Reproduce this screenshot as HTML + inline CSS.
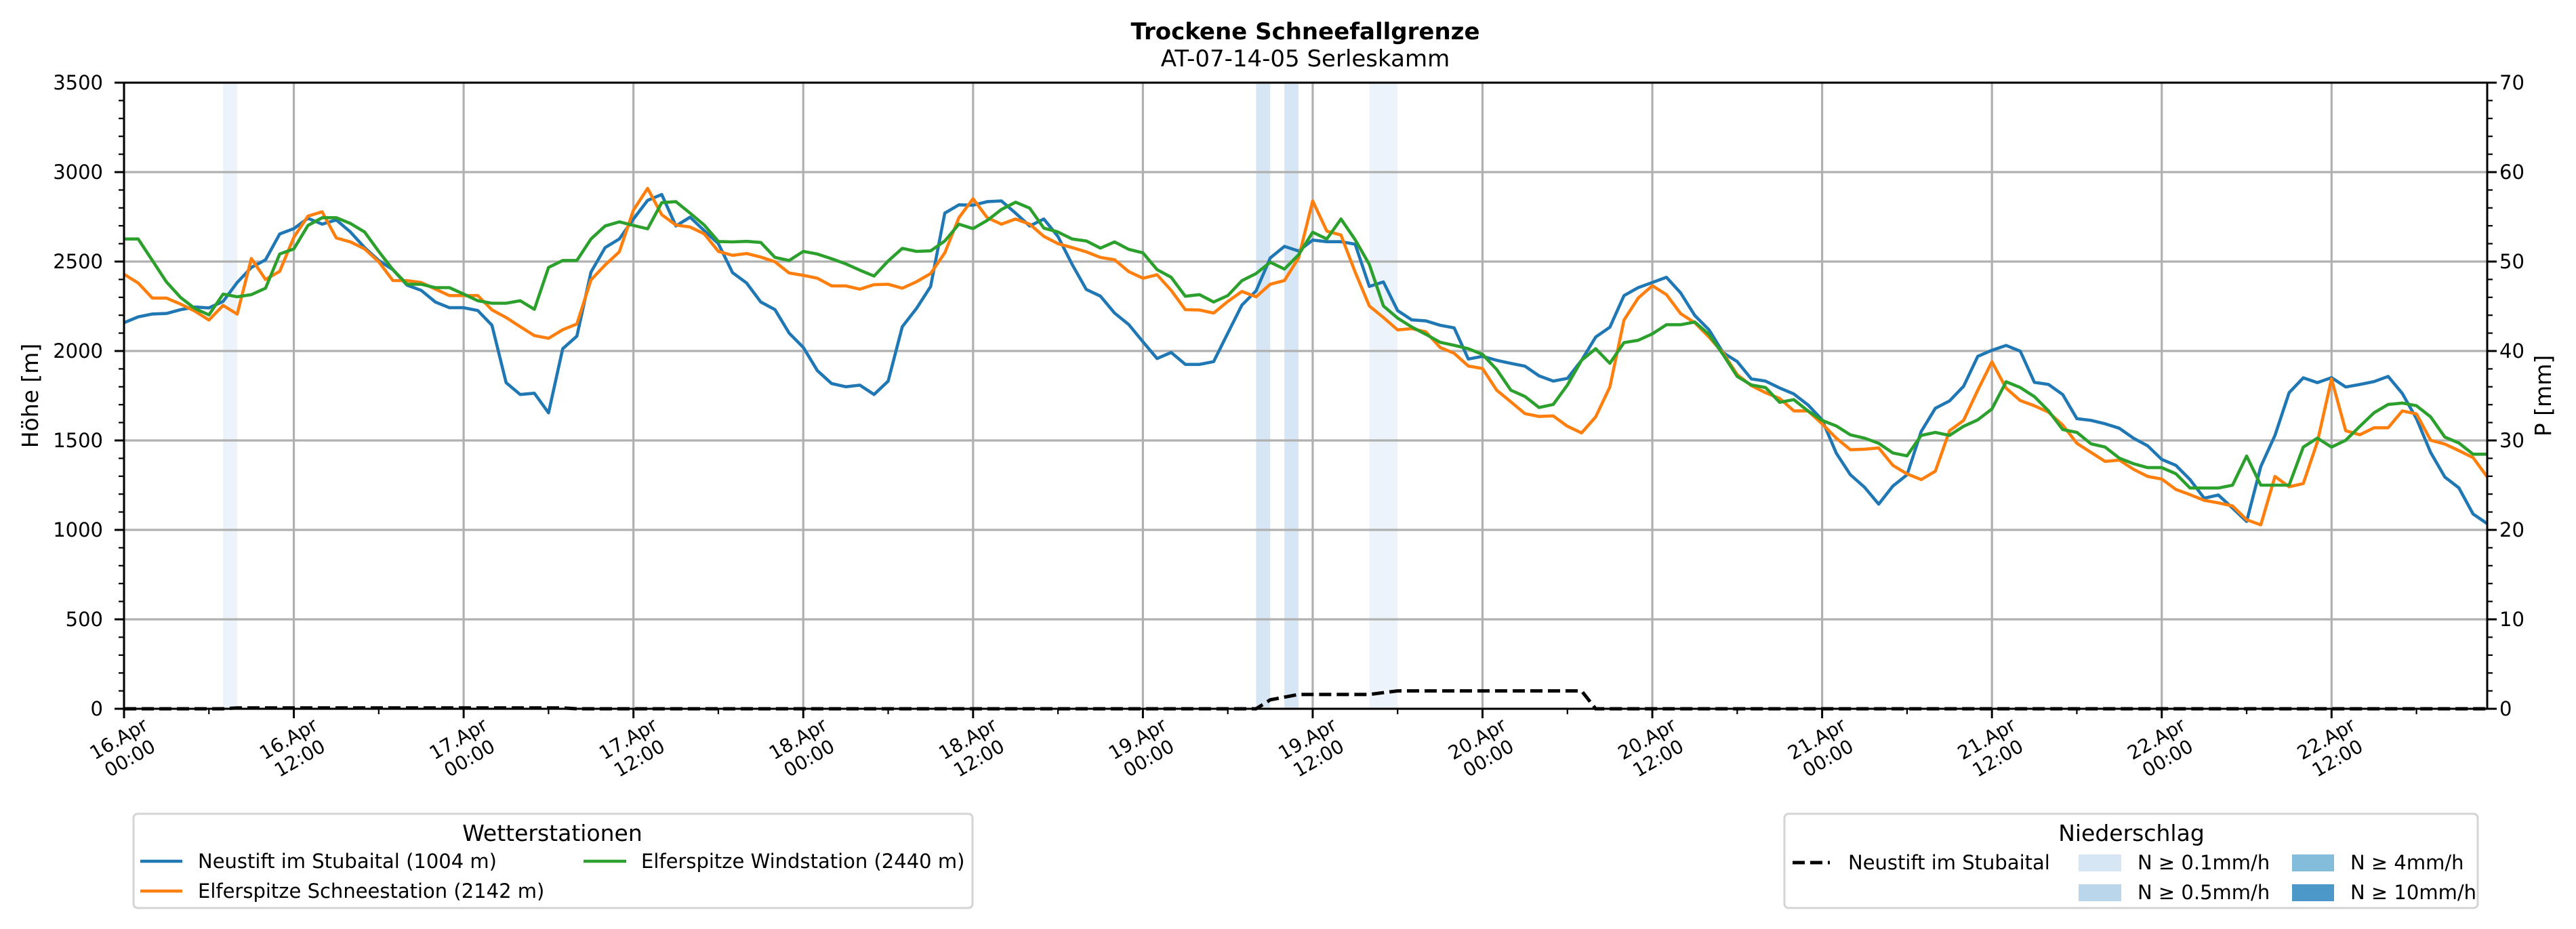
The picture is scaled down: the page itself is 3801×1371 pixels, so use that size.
<!DOCTYPE html>
<html><head><meta charset="utf-8"><style>
html,body{margin:0;padding:0;background:#fff;}
svg{display:block;font-family:"DejaVu Sans","Liberation Sans",sans-serif;}
</style></head><body>
<svg id="chart" width="3801" height="1371" viewBox="0 0 3801 1371" xmlns="http://www.w3.org/2000/svg">
<rect x="0" y="0" width="3801" height="1371" fill="#fff"/>
<text x="1926" y="58" text-anchor="middle" font-size="34" font-weight="bold">Trockene Schneefallgrenze</text>
<text x="1926" y="98" text-anchor="middle" font-size="34">AT-07-14-05 Serleskamm</text>
<g id="spans"></g>
<g id="grid"></g>
<g id="series"></g>
<g id="axes"></g>
<text transform="translate(56,584) rotate(-90)" text-anchor="middle" font-size="33">Höhe [m]</text>
<text transform="translate(3764,584) rotate(-90)" text-anchor="middle" font-size="33">P [mm]</text>

<g>
<rect x="197" y="1201" width="1238" height="139" rx="6" fill="#fff" stroke="#d4d4d4" stroke-width="3"/>
<text x="815" y="1241" text-anchor="middle" font-size="33">Wetterstationen</text>
<g><line x1="207" y1="1271" x2="269" y2="1271" stroke="#1f77b4" stroke-width="4.5"/><text x="292" y="1281" font-size="29">Neustift im Stubaital (1004 m)</text></g>
<g><line x1="207" y1="1315" x2="269" y2="1315" stroke="#ff7f0e" stroke-width="4.5"/><text x="292" y="1325" font-size="29">Elferspitze Schneestation (2142 m)</text></g>
<g><line x1="861" y1="1271" x2="924" y2="1271" stroke="#2ca02c" stroke-width="4.5"/><text x="946" y="1281" font-size="29">Elferspitze Windstation (2440 m)</text></g>
</g>

<g>
<rect x="2633" y="1201" width="1023" height="139" rx="6" fill="#fff" stroke="#d4d4d4" stroke-width="3"/>
<text x="3145" y="1241" text-anchor="middle" font-size="33">Niederschlag</text>
<g><line x1="2645" y1="1273" x2="2700" y2="1273" stroke="#000" stroke-width="5" stroke-dasharray="18,8"/><text x="2727" y="1283" font-size="29">Neustift im Stubaital</text></g>
<g><rect x="3067" y="1261" width="63" height="25" fill="#d6e6f4"/><text x="3154" y="1283" font-size="29">N ≥ 0.1mm/h</text></g>
<g><rect x="3067" y="1305" width="63" height="25" fill="#bad6eb"/><text x="3154" y="1327" font-size="29">N ≥ 0.5mm/h</text></g>
<g><rect x="3382" y="1261" width="62" height="25" fill="#84bcdb"/><text x="3468" y="1283" font-size="29">N ≥ 4mm/h</text></g>
<g><rect x="3382" y="1305" width="62" height="25" fill="#4b98c9"/><text x="3468" y="1327" font-size="29">N ≥ 10mm/h</text></g>
</g>
</svg>
<script>
const blue = [2158,2191,2207,2210,2231,2246,2241,2277,2383,2467,2510,2654,2684,2742,2709,2733,2665,2578,2506,2455,2368,2339,2274,2242,2242,2226,2144,1823,1757,1764,1654,2013,2083,2441,
2578,2626,2738,2842,2875,2699,2748,2673,2600,2438,2380,2274,2231,2100,2020,1890,1818,1800,1809,1757,1832,2136,2238,2361,2771,2817,2815,2835,2839,2771,2699,2738,2640,
2484,2344,2307,2212,2148,2052,1958,1992,1925,1925,1941,2100,2257,2336,2520,2585,2559,2620,2611,2611,2597,2361,2386,2226,2174,2168,2144,2129,1955,1970,1948,1931,1915,
1861,1832,1847,1948,2078,2133,2310,2354,2383,2412,2325,2199,2119,1991,1941,1844,1832,1793,1760,1699,1615,1429,1308,1238,1144,1245,1308,1550,1680,1721,1803,1970,2004,
2031,1999,1825,1813,1757,1622,1612,1593,1568,1513,1470,1394,1361,1281,1177,1195,1122,1047,1354,1528,1767,1850,1823,1851,1799,1813,1829,1858,1763,1622,1433,1296,1235,1089,1035];
const orange = [2429,2380,2296,2296,2262,2223,2173,2255,2206,2517,2400,2445,2636,2754,2778,2632,2610,2571,2499,2394,2393,2383,2346,2310,2310,2310,2230,2187,2136,2086,2071,2119,2151,2397,
2481,2554,2788,2909,2762,2704,2693,2655,2557,2535,2545,2525,2499,2436,2423,2407,2364,2364,2346,2371,2373,2351,2387,2433,2549,2745,2851,2745,2709,2738,2709,2641,2600,
2578,2554,2523,2510,2444,2407,2426,2339,2231,2229,2212,2277,2333,2303,2373,2394,2520,2839,2670,2648,2441,2252,2187,2118,2125,2107,2020,1987,1916,1902,1781,1716,1650,
1634,1637,1579,1542,1632,1799,2173,2296,2365,2315,2209,2158,2078,1989,1868,1806,1767,1735,1665,1665,1593,1513,1448,1451,1458,1361,1313,1281,1328,1554,1612,1781,1940,
1792,1723,1694,1658,1586,1484,1433,1383,1390,1339,1299,1284,1226,1197,1165,1151,1134,1057,1028,1299,1241,1259,1492,1844,1554,1532,1571,1571,1665,1648,1501,1480,1443,1404,1296];
const green = [2626,2626,2506,2386,2299,2238,2202,2318,2303,2315,2351,2542,2571,2702,2745,2745,2713,2665,2557,2455,2373,2373,2354,2354,2318,2281,2267,2267,2281,2233,2467,2506,2506,2626,
2699,2722,2702,2683,2829,2835,2771,2704,2612,2610,2613,2607,2523,2506,2557,2542,2516,2487,2452,2419,2503,2574,2557,2560,2615,2709,2684,2730,2791,2832,2799,2687,2665,
2626,2615,2575,2610,2568,2549,2455,2412,2306,2315,2274,2310,2393,2433,2496,2458,2538,2664,2626,2738,2622,2484,2252,2184,2134,2093,2049,2032,2013,1981,1897,1781,1746,
1684,1701,1810,1948,2013,1931,2047,2060,2096,2147,2147,2162,2093,1980,1858,1810,1796,1713,1728,1665,1612,1581,1531,1513,1484,1430,1414,1528,1545,1528,1579,1615,1676,
1828,1796,1745,1665,1561,1545,1481,1463,1401,1370,1348,1348,1314,1234,1234,1234,1250,1413,1250,1250,1250,1463,1513,1463,1501,1579,1655,1701,1709,1694,1632,1519,1486,1423,1423];
const precip = [0,0,0,0,0,0,0,0,
0.1,0.1,0.1,0.1,0.1,0.1,0.1,0.1,0.1,0.1,0.1,0.1,0.1,0.1,0.1,0.1,0.1,0.1,0.1,0.1,0.1,0.1,0.1,0.1,
0,0,0,0,0,0,0,0,0,0,0,0,0,0,0,0,0,0,0,0,0,0,0,0,0,0,0,0,0,0,0,0,0,0,0,0,0,0,0,0,0,0,0,0,0,0,0,0,
0,1.0,1.3,1.6,1.6,1.6,1.6,1.6,1.6,1.8,
2.0,2.0,2.0,2.0,2.0,2.0,2.0,2.0,2.0,2.0,2.0,2.0,2.0,2.0,
0,0,0,0,0,0,0,0,0,0,0,0,0,0,0,0,0,0,0,0,0,0,0,0,0,0,0,0,0,0,0,0,0,0,0,0,0,0,0,0,0,0,0,0,0,0,0,0,0,0,0,0,0,0,0,0,0,0,0,0,0,0,0,0];
const spanStart = [7,80,82,88];
const spanEnd = [8,81,83,90];
const spanLevel = ["light","n01","n01","light"];
const xTickDay = ["16.Apr","16.Apr","17.Apr","17.Apr","18.Apr","18.Apr","19.Apr","19.Apr","20.Apr","20.Apr","21.Apr","21.Apr","22.Apr","22.Apr"];
const xTickTime = ["00:00","12:00","00:00","12:00","00:00","12:00","00:00","12:00","00:00","12:00","00:00","12:00","00:00","12:00"];
const xTickHour = [0,12,24,36,48,60,72,84,96,108,120,132,144,156];
const yTicks = [0,500,1000,1500,2000,2500,3000,3500];
const y2Ticks = [0,10,20,30,40,50,60,70];

const L=183,R=3670,T=122,B=1046,HMAX=167,YMAX=3500,PMAX=70;
const NS="http://www.w3.org/2000/svg";
function xs(h){return L+(R-L)*h/HMAX;}
function ys(v){return B-(B-T)*v/YMAX;}
function yp(v){return B-(B-T)*v/PMAX;}
function mk(tag,attrs,parent){const e=document.createElementNS(NS,tag);for(const k in attrs)e.setAttribute(k,attrs[k]);parent.appendChild(e);return e;}
const spansG=document.getElementById('spans'),gridG=document.getElementById('grid'),serG=document.getElementById('series'),axG=document.getElementById('axes');
const spanColor={light:"#edf3fa",n01:"#d6e6f4"};
for(let i=0;i<spanStart.length;i++){
  const r=mk('rect',{x:xs(spanStart[i]),y:T,width:xs(spanEnd[i])-xs(spanStart[i]),height:B-T,fill:spanColor[spanLevel[i]]},spansG);
  
  
}
for(const h of xTickHour){const l=mk('line',{x1:xs(h),x2:xs(h),y1:T,y2:B,stroke:"#b0b0b0","stroke-width":3.2},gridG);
  
  }
for(const v of yTicks){const l=mk('line',{x1:L,x2:R,y1:ys(v),y2:ys(v),stroke:"#b0b0b0","stroke-width":3.2},gridG);
  
  }
function line(arr,color,name){
  const pts=arr.map((v,i)=>xs(i).toFixed(1)+","+ys(v).toFixed(1)).join(" ");
  const p=mk('polyline',{points:pts,fill:"none",stroke:color,"stroke-width":4.6,"stroke-linejoin":"round"},serG);
  
  
}
line(blue,"#1f77b4","series-neustift");
line(orange,"#ff7f0e","series-schneestation");
line(green,"#2ca02c","series-windstation");
const pp=mk('polyline',{points:precip.map((v,i)=>xs(i).toFixed(1)+","+yp(v).toFixed(1)).join(" "),fill:"none",stroke:"#000","stroke-width":5,"stroke-dasharray":"18,8"},serG);


mk('rect',{x:L,y:T,width:R-L,height:B-T,fill:"none",stroke:"#000","stroke-width":3},axG);
for(let v=0;v<=YMAX;v+=100){const major=v%500===0;mk('line',{x1:L,x2:L-(major?14:8),y1:ys(v),y2:ys(v),stroke:"#000","stroke-width":major?3:2.2},axG);}
for(let v=0;v<=PMAX;v+=2){mk('line',{x1:R,x2:R+8,y1:yp(v),y2:yp(v),stroke:"#000","stroke-width":2.2},axG);}
for(const v of y2Ticks){mk('line',{x1:R,x2:R+14,y1:yp(v),y2:yp(v),stroke:"#000","stroke-width":3},axG);}
for(let h=0;h<=HMAX;h+=6){const major=h%12===0;mk('line',{x1:xs(h),x2:xs(h),y1:B,y2:B+(major?14:8),stroke:"#000","stroke-width":major?3:2.2},axG);}
for(const v of yTicks){const t=mk('text',{x:152,y:ys(v)+10,"text-anchor":"end","font-size":29},axG);t.textContent=v;
  
  }
for(const v of y2Ticks){const t=mk('text',{x:3688,y:yp(v)+10,"font-size":29},axG);t.textContent=v;
  
  }
for(let i=0;i<xTickHour.length;i++){
  const g=mk('g',{transform:"translate("+xs(xTickHour[i])+",1104) rotate(-30)"},axG);
  
  
  const a=mk('text',{x:0,y:-6,"text-anchor":"middle","font-size":28},g);a.textContent=xTickDay[i];
  const b=mk('text',{x:0,y:27,"text-anchor":"middle","font-size":28},g);b.textContent=xTickTime[i];
}
</script>
</body></html>
